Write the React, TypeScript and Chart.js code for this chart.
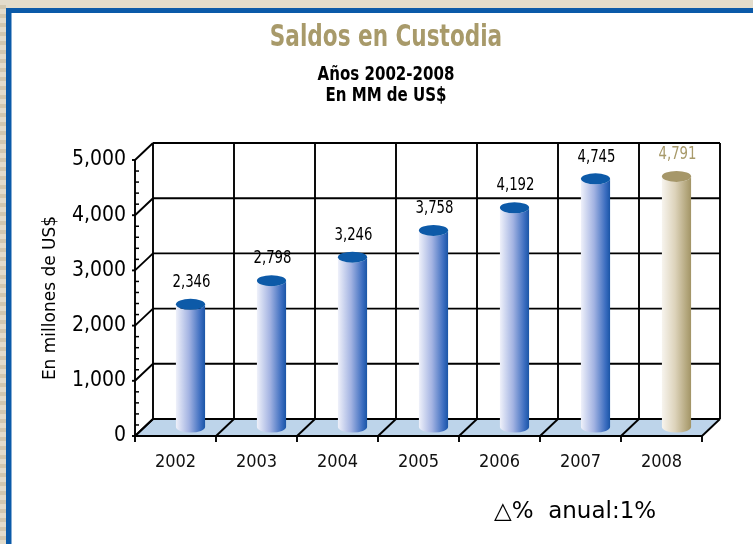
import { useEffect, useRef } from "react";
import { Chart, registerables } from "chart.js";

Chart.register(...registerables);

// ---- data ----
const categories = ["2002", "2003", "2004", "2005", "2006", "2007", "2008"];
const balances = [2346, 2798, 3246, 3758, 4192, 4745, 4791];
const yTickValues = [0, 1000, 2000, 3000, 4000, 5000];
const titleText = "Saldos en Custodia";
const subtitleLines = ["Años 2002-2008", "En MM de US$"];
const yAxisTitle = "En millones de US$";
const footerText = "△%  anual:1%";

// ---- styles ----
const NARROW = "'DejaVu Sans Condensed', 'Liberation Sans Narrow', sans-serif";
const WIDE = "'DejaVu Sans', 'Noto Sans', sans-serif";
const TAN = "#a89a6a";
const DX = 18;
const DY = 17;
const CYL_DX = 15;
const CYL_RY = 5.5;
const blueBody = ["#eff1fa", "#a3b3e2", "#3a6cbf", "#1a55a6"];
const blueTop = "#0d5aa8";
const tanBody = ["#f7f4ee", "#ddd3bb", "#b3a67c", "#a29466"];
const tanTop = "#a69769";

const fmt = (v: number) => v.toLocaleString("en-US");

function line(ctx: CanvasRenderingContext2D, x1: number, y1: number, x2: number, y2: number) {
  ctx.beginPath();
  ctx.moveTo(x1, y1);
  ctx.lineTo(x2, y2);
  ctx.stroke();
}

function squeezedText(ctx: CanvasRenderingContext2D, text: string, x: number, y: number, sx: number) {
  ctx.save();
  ctx.translate(x, y);
  ctx.scale(sx, 1);
  ctx.fillText(text, 0, 0);
  ctx.restore();
}

const framePlugin = {
  id: "frame",
  beforeDraw(chart: any) {
    const { ctx, width, height } = chart;
    ctx.save();
    ctx.fillStyle = "#e3dccb";
    ctx.fillRect(0, 0, width, height);
    ctx.fillStyle = "#d2c8b0";
    for (let y = 0; y < height; y += 9) ctx.fillRect(0, y + 5, 6, 4);
    ctx.fillStyle = "#0b5aa9";
    ctx.fillRect(6, 8, width, height);
    ctx.fillStyle = "#ffffff";
    ctx.fillRect(11.5, 13, width, height);
    ctx.restore();
  },
};

const wallPlugin = {
  id: "wall",
  beforeDatasetsDraw(chart: any) {
    const { ctx } = chart;
    const xs = chart.scales.x;
    const ys = chart.scales.y;
    const { left, right, top, bottom } = chart.chartArea;
    ctx.save();
    // floor
    ctx.fillStyle = "#bdd4ea";
    ctx.beginPath();
    ctx.moveTo(left, bottom);
    ctx.lineTo(right, bottom);
    ctx.lineTo(right + DX, bottom - DY);
    ctx.lineTo(left + DX, bottom - DY);
    ctx.closePath();
    ctx.fill();

    ctx.strokeStyle = "#000";
    ctx.lineWidth = 1.9;
    // horizontal gridlines on back wall + left side diagonals
    ys.ticks.forEach((t: any) => {
      const py = ys.getPixelForValue(t.value);
      line(ctx, left, py, left + DX, py - DY);
      line(ctx, left + DX, py - DY, right + DX, py - DY);
      line(ctx, left - 3, py, left, py);
    });
    // category boundaries
    for (let i = 0; i <= categories.length; i++) {
      const bx = xs.getPixelForValue(i - 0.5);
      line(ctx, bx + DX, bottom - DY, bx + DX, top - DY);
      line(ctx, bx, bottom, bx + DX, bottom - DY);
      line(ctx, bx, bottom, bx, bottom + 6);
    }
    // front axis + floor edge
    line(ctx, left, bottom, left, top);
    line(ctx, left, bottom, right, bottom);
    // minor ticks
    ctx.lineWidth = 1.5;
    const step = 200;
    for (let v = step; v < ys.max; v += step) {
      if (v % 1000 === 0) continue;
      const py = ys.getPixelForValue(v);
      line(ctx, left, py, left + 4, py);
    }
    ctx.restore();
  },
  afterDatasetsDraw(chart: any) {
    const { ctx } = chart;
    const meta = chart.getDatasetMeta(0);
    ctx.save();
    meta.data.forEach((bar: any, i: number) => {
      const { x, y, base, width } = bar.getProps(["x", "y", "base", "width"], true);
      const isLast = i === meta.data.length - 1;
      const body = isLast ? tanBody : blueBody;
      const cx = x + CYL_DX;
      const rx = width / 2;
      const l = cx - rx;
      const r = cx + rx;
      const g = ctx.createLinearGradient(l, 0, r, 0);
      g.addColorStop(0, body[0]);
      g.addColorStop(0.45, body[1]);
      g.addColorStop(0.85, body[2]);
      g.addColorStop(1, body[3]);
      ctx.fillStyle = g;
      ctx.beginPath();
      ctx.moveTo(l, y);
      ctx.lineTo(l, base);
      ctx.ellipse(cx, base, rx, CYL_RY, 0, Math.PI, 0, true);
      ctx.lineTo(r, y);
      ctx.ellipse(cx, y, rx, CYL_RY, 0, 0, Math.PI, false);
      ctx.closePath();
      ctx.fill();
      ctx.fillStyle = isLast ? tanTop : blueTop;
      ctx.beginPath();
      ctx.ellipse(cx, y, rx, CYL_RY, 0, 0, Math.PI * 2);
      ctx.fill();
      // value label
      ctx.fillStyle = isLast ? TAN : "#000";
      ctx.font = `18px ${NARROW}`;
      ctx.textAlign = "center";
      ctx.textBaseline = "middle";
      squeezedText(ctx, fmt(balances[i]), cx + 1, y - 22, 0.82);
    });
    ctx.restore();
  },
};

const textPlugin = {
  id: "texts",
  afterDraw(chart: any) {
    const { ctx } = chart;
    ctx.save();
    ctx.textAlign = "center";
    ctx.textBaseline = "middle";
    ctx.fillStyle = TAN;
    ctx.font = `bold 30px ${NARROW}`;
    squeezedText(ctx, titleText, 386, 38, 0.8);
    ctx.fillStyle = "#000";
    ctx.font = `bold 19px ${NARROW}`;
    squeezedText(ctx, subtitleLines[0], 386, 75, 0.88);
    squeezedText(ctx, subtitleLines[1], 386, 96, 0.88);
    ctx.textAlign = "left";
    ctx.font = `23px ${WIDE}`;
    ctx.fillText(footerText, 494, 512);
    ctx.restore();
  },
};

export default function App() {
  const ref = useRef<HTMLCanvasElement | null>(null);
  useEffect(() => {
    if (!ref.current) return;
    const chart = new Chart(ref.current, {
      type: "bar",
      data: {
        labels: categories,
        datasets: [
          {
            data: balances,
            yAxisID: "y2",
            backgroundColor: "rgba(0,0,0,0)",
            borderWidth: 0,
            barPercentage: 0.36,
            categoryPercentage: 1,
          },
        ],
      },
      options: {
        animation: false,
        responsive: false,
        devicePixelRatio: 1,
        layout: { padding: { left: 12, right: 51, top: 160, bottom: 20 } },
        plugins: { legend: { display: false }, tooltip: { enabled: false }, title: { display: false } },
        scales: {
          x: {
            offset: true,
            grid: { display: false, drawTicks: false },
            border: { display: false },
            ticks: { color: "#111", font: { family: NARROW, size: 18 }, padding: 16, maxRotation: 0 },
            afterFit: (s: any) => {
              s.height = 88;
            },
          },
          y: {
            min: 0,
            max: 5000,
            afterBuildTicks: (s: any) => {
              s.ticks = yTickValues.map((v) => ({ value: v }));
            },
            grid: { display: false, drawTicks: false },
            border: { display: false },
            ticks: { color: "#000", font: { family: NARROW, size: 21 }, padding: 9, callback: (v: any) => fmt(Number(v)) },
            title: { display: true, text: yAxisTitle, color: "#000", font: { family: WIDE, size: 17 }, padding: { top: 28, bottom: 0 } },
            afterFit: (s: any) => {
              s.width = 123;
            },
          },
          y2: { type: "linear", display: false, min: -172, max: 5105 },
        },
      },
      plugins: [framePlugin, wallPlugin, textPlugin],
    });
    return () => chart.destroy();
  }, []);
  return (
    <div style={{ position: "absolute", left: 0, top: 0, width: 753, height: 544 }}>
      <canvas ref={ref} width={753} height={544} style={{ width: 753, height: 544, display: "block" }} />
    </div>
  );
}
